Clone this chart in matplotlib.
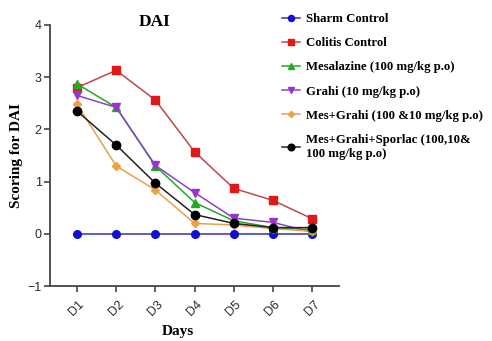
import matplotlib
matplotlib.use("Agg")
import matplotlib.pyplot as plt

days = ["D1", "D2", "D3", "D4", "D5", "D6", "D7"]
sharm_control = [0, 0, 0, 0, 0, 0, 0]
colitis_control = [2.80, 3.13, 2.56, 1.57, 0.87, 0.64, 0.29]
mesalazine = [2.87, 2.42, 1.30, 0.60, 0.25, 0.12, 0.08]
grahi = [2.65, 2.42, 1.31, 0.79, 0.30, 0.22, 0.03]
mes_grahi = [2.48, 1.30, 0.84, 0.20, 0.17, 0.10, 0.05]
mes_grahi_sporlac = [2.35, 1.70, 0.97, 0.37, 0.20, 0.12, 0.12]

series = [
    ("Sharm Control", sharm_control, "#1010d0", "o"),
    ("Colitis Control", colitis_control, "#e01818", "s"),
    ("Mesalazine (100 mg/kg p.o)", mesalazine, "#22aa22", "^"),
    ("Grahi (10 mg/kg p.o)", grahi, "#9933cc", "v"),
    ("Mes+Grahi (100 &10 mg/kg p.o)", mes_grahi, "#f0a040", "D"),
    ("Mes+Grahi+Sporlac (100,10&\n100 mg/kg p.o)", mes_grahi_sporlac, "#000000", "o"),
]
line_colors = ["#3333aa", "#c04848", "#22aa22", "#8a44c8", "#e8a050", "#222222"]
sizes = [5.5, 5.5, 5.5, 5.5, 4, 6]

fig = plt.figure(figsize=(4.92, 3.41), dpi=100)
ax = fig.add_axes([0.1016, 0.161, 0.587, 0.766])

x = list(range(len(days)))
handles = []
for (label, vals, mc, mk), lc, ms in zip(series, line_colors, sizes):
    h, = ax.plot(x, vals, color=lc, lw=1.1, marker=mk, ms=ms,
                 mfc=mc, mec=mc, label=label)
    handles.append(h)

ax.set_xlim(-0.69, 6.68)
ax.set_ylim(-1, 4)
ax.set_yticks([-1, 0, 1, 2, 3, 4])
ax.set_xticks(x)
ax.set_xticklabels(days, rotation=45, ha="center")
for lab in ax.get_xticklabels() + ax.get_yticklabels():
    lab.set_fontfamily("Liberation Sans")
    lab.set_fontsize(9)
    lab.set_color("#2a2a2a")
for s in ["top", "right"]:
    ax.spines[s].set_visible(False)
for s in ["left", "bottom"]:
    ax.spines[s].set_color("#444444")
    ax.spines[s].set_linewidth(1.3)
ax.tick_params(direction="out", length=4, width=1.2, color="#444444")
ax.tick_params(axis="x", pad=5)
ax.tick_params(axis="y", pad=2)

serif_bold = dict(family="Liberation Serif", weight="bold")
ax.text(0.363, 1.012, "DAI", transform=ax.transAxes, ha="center", va="center",
        fontsize=12.5, **serif_bold)
ax.set_xlabel("Days", fontsize=11, **serif_bold)
ax.xaxis.set_label_coords(0.443, -0.15)
ax.set_ylabel("Scoring for DAI", fontsize=11, **serif_bold)
ax.yaxis.set_label_coords(-0.095, 0.5)

leg = fig.legend(handles=handles, loc="upper left", bbox_to_anchor=(0.55, 0.995),
                 frameon=False, handlelength=1.4, handletextpad=0.5,
                 labelspacing=0.95, markerscale=0.8,
                 prop=dict(family="Liberation Serif", weight="bold", size=9.2))

fig.savefig("out.png", dpi=100)
